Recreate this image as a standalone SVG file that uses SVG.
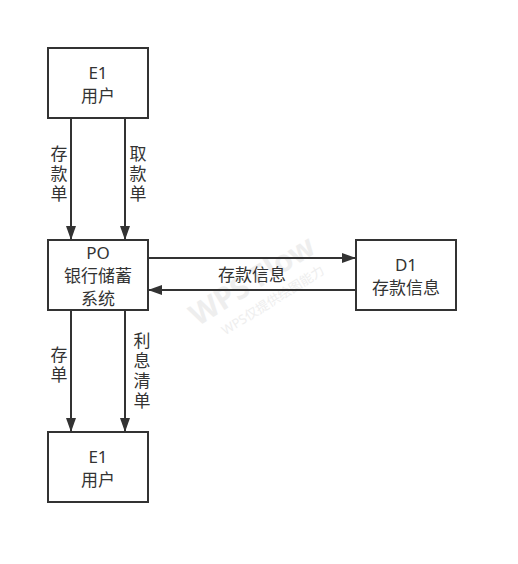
<svg xmlns="http://www.w3.org/2000/svg" width="518" height="564" viewBox="0 0 518 564">
  <style>
    .box { fill: #ffffff; stroke: #333333; stroke-width: 2; }
    .edge { stroke: #333333; stroke-width: 2; fill: none; }
    text { font-family: "Noto Sans", "Noto Sans CJK SC", sans-serif; font-size: 17px; fill: #333333; text-anchor: middle; }
    .vlabel { writing-mode: vertical-rl; text-orientation: upright; text-anchor: start; letter-spacing: 3px; }
    .wm1 { font-family: "Noto Sans", sans-serif; font-size: 30px; font-weight: bold; fill: #eeeeee; }
    .wm2 { font-family: "Noto Sans", "Noto Sans CJK SC", sans-serif; font-size: 13px; fill: #eeeeee; }
  </style>
  <defs>
    <marker id="arrow" viewBox="0 0 14 10" refX="14" refY="5" markerWidth="14" markerHeight="10" markerUnits="userSpaceOnUse" orient="auto">
      <path d="M0,0 L14,5 L0,10 z" fill="#333333"/>
    </marker>
  </defs>
  <rect width="518" height="564" fill="#ffffff"/>

  <!-- watermark -->
  <g transform="rotate(-32 255 285)">
    <text class="wm1" x="255" y="290">WPS Flow</text>
    <text class="wm2" x="262" y="312">WPS仅提供绘图能力</text>
  </g>

  <g id="connectors">
    <line class="edge" x1="71" y1="118" x2="71" y2="240" marker-end="url(#arrow)"/>
    <line class="edge" x1="125" y1="118" x2="125" y2="240" marker-end="url(#arrow)"/>
    <line class="edge" x1="148" y1="258" x2="356" y2="258" marker-end="url(#arrow)"/>
    <line class="edge" x1="356" y1="290" x2="148" y2="290" marker-end="url(#arrow)"/>
    <line class="edge" x1="71" y1="310" x2="71" y2="432" marker-end="url(#arrow)"/>
    <line class="edge" x1="125" y1="310" x2="125" y2="432" marker-end="url(#arrow)"/>
    <text class="vlabel" x="58" y="145">存款单</text>
    <text class="vlabel" x="137" y="145">取款单</text>
    <text x="252" y="281">存款信息</text>
    <text class="vlabel" x="58" y="346">存单</text>
    <text class="vlabel" x="141" y="332">利息清单</text>
  </g>

  <g id="user-top">
    <rect class="box" x="48" y="48" width="100" height="70"/>
    <text x="98" y="79">E1</text>
    <text x="98" y="102">用户</text>
  </g>

  <g id="bank-system">
    <rect class="box" x="48" y="240" width="100" height="70"/>
    <text x="98" y="259">PO</text>
    <text x="98" y="282">银行储蓄</text>
    <text x="98" y="305">系统</text>
  </g>

  <g id="deposit-store">
    <rect class="box" x="356" y="240" width="100" height="70"/>
    <text x="406" y="271">D1</text>
    <text x="406" y="294">存款信息</text>
  </g>

  <g id="user-bottom">
    <rect class="box" x="48" y="432" width="100" height="70"/>
    <text x="98" y="463">E1</text>
    <text x="98" y="486">用户</text>
  </g>
</svg>
